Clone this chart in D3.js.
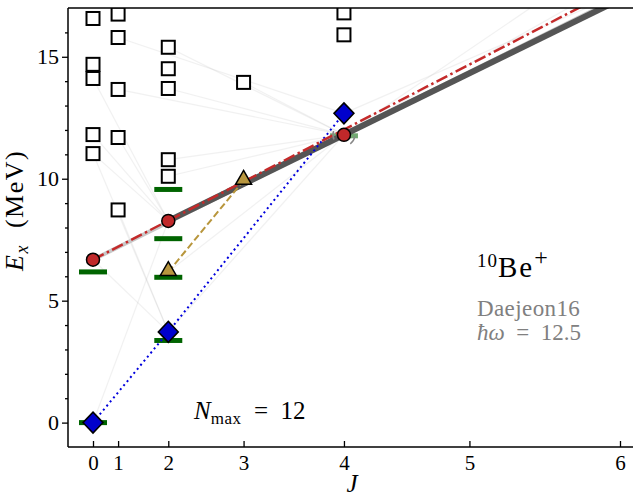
<!DOCTYPE html>
<html>
<head>
<meta charset="utf-8">
<script src="https://cdn.jsdelivr.net/npm/d3@7"></script>
<style>
  body { margin: 0; background: #fff; }
  svg text { font-family: "Liberation Serif", "DejaVu Serif", serif; }
</style>
</head>
<body>
<div id="chart"></div>
<script>
// axis ticks (x axis is J, placed at J(J+1))
var xTicks = [0, 1, 2, 3, 4, 5, 6];
var yMajor = [0, 5, 10, 15];
var yMinor = [1, 2, 3, 4, 6, 7, 8, 9, 11, 12, 13, 14, 16];

// experimental levels (green bars)
var expJ = [0, 2, 2, 0, 2, 2, 4];
var expE = [0, 3.368, 5.958, 6.179, 7.542, 9.56, 11.76];

// ground band (blue diamonds)
var gsJ = [0, 2, 4];
var gsE = [0, 3.72, 12.68];

// excited K=0 band (red circles)
var k0J = [0, 2, 4];
var k0E = [6.68, 8.27, 11.80];

// K=2 band (triangles)
var k2J = [2, 3];
var k2E = [6.18, 9.92];

// other calculated states (open squares)
var otherJ = [0, 0, 0, 0, 0, 1, 1, 1, 1, 1, 2, 2, 2, 2, 2, 3, 4, 4];
var otherE = [16.57, 14.69, 14.11, 11.81, 11.03,
              16.75, 15.79, 13.66, 11.69, 8.72,
              15.39, 14.51, 13.70, 10.78, 10.10,
              13.95, 16.80, 15.90];

// rotational fit lines (end points, J and E)
var fitRedJ = [0, 6], fitRedE = [6.68, 17.88];
var fitDarkJ = [2, 6], fitDarkE = [8.27, 17.35];
var fitLightJ = [0, 6], fitLightE = [6.68, 17.45];

// faint transition lines: from (J1,E1) to (J2,E2)
var trJ1 = [0, 0, 1, 1, 2, 2, 2, 3, 2, 0, 1, 0, 2, 4, 4, 4, 2, 0, 1, 2];
var trE1 = [11.03, 11.81, 8.72, 11.69, 10.10, 10.78, 13.70, 13.95, 3.72, 6.68, 13.66, 0, 6.18, 11.80, 11.80, 12.68, 15.39, 14.11, 15.79, 8.27];
var trJ2 = [2, 2, 2, 2, 4, 4, 4, 4, 4, 2, 4, 2, 4, 6, 6, 6, 4, 2, 4, 0];
var trE2 = [3.72, 8.27, 3.72, 8.27, 11.80, 11.80, 11.80, 11.80, 11.80, 3.72, 11.80, 8.27, 11.80, 18.2, 19.5, 17.6, 11.80, 8.27, 12.68, 11.03];

var margin = { top: 8, right: 2, bottom: 49, left: 68 },
  width = 635 - margin.left - margin.right,
  height = 496 - margin.top - margin.bottom;

var jj = function(J) { return J * (J + 1); };

var svg = d3
  .select("#chart")
  .append("svg")
  .attr("width", 635)
  .attr("height", 496)
  .append("g")
  .attr("transform", "translate(" + margin.left + "," + margin.top + ")");

var x = d3.scaleLinear().domain([0, 42]).range([25, 552]);
var y = d3.scaleLinear().domain([-1, 17]).range([height, 0]);

svg.append("clipPath").attr("id", "clip")
  .append("rect").attr("width", width).attr("height", height);

var plot = svg.append("g").attr("clip-path", "url(#clip)");

// faint transitions
trJ1.forEach(function(d, i) {
  plot.append("line")
    .attr("x1", x(jj(trJ1[i]))).attr("y1", y(trE1[i]))
    .attr("x2", x(jj(trJ2[i]))).attr("y2", y(trE2[i]))
    .attr("stroke", "#999").attr("stroke-width", 1.2).attr("opacity", 0.13);
});

// experimental bars
expJ.forEach(function(J, i) {
  plot.append("line")
    .attr("x1", x(jj(J)) - 14).attr("x2", x(jj(J)) + 14)
    .attr("y1", y(expE[i])).attr("y2", y(expE[i]))
    .attr("stroke", "#006400").attr("stroke-width", 5)
    .attr("opacity", J == 4 ? 0.55 : 1);
});

var line = d3.line()
  .x(function(d) { return x(jj(d[0])); })
  .y(function(d) { return y(d[1]); });
var zip = function(a, b) { return a.map(function(v, i) { return [v, b[i]]; }); };

// fit lines
plot.append("path").attr("d", line(zip(fitLightJ, fitLightE)))
  .attr("fill", "none").attr("stroke", "#c8c8c8").attr("stroke-width", 4);
plot.append("path").attr("d", line(zip(fitDarkJ, fitDarkE)))
  .attr("fill", "none").attr("stroke", "#555").attr("stroke-width", 6);

// band lines
plot.append("path").attr("d", line(zip(gsJ, gsE)))
  .attr("fill", "none").attr("stroke", "#0000dd").attr("stroke-width", 2)
  .attr("stroke-dasharray", "2,3.3");
plot.append("path").attr("d", line(zip(k2J, k2E)))
  .attr("fill", "none").attr("stroke", "#b8963c").attr("stroke-width", 2)
  .attr("stroke-dasharray", "7,3.2");
plot.append("path").attr("d", line(zip(fitRedJ, fitRedE)))
  .attr("fill", "none").attr("stroke", "#c42a2a").attr("stroke-width", 2.5)
  .attr("stroke-dasharray", "12,3.5,2.5,3.5");

// squares
otherJ.forEach(function(J, i) {
  plot.append("rect")
    .attr("x", x(jj(J)) - 6.5).attr("y", y(otherE[i]) - 6.5)
    .attr("width", 13).attr("height", 13)
    .attr("fill", "#fff").attr("stroke", "#000").attr("stroke-width", 2);
});

// rotation arcs around J=4 circle
[[-115, -70], [100, 145]].forEach(function(a) {
  plot.append("path")
    .attr("d", d3.arc()({ innerRadius: 11, outerRadius: 11, startAngle: a[0] * Math.PI / 180, endAngle: a[1] * Math.PI / 180 }))
    .attr("transform", "translate(" + x(jj(4)) + "," + y(k0E[2]) + ")")
    .attr("fill", "none").attr("stroke", "#888").attr("stroke-width", 1.5);
});

// triangles
k2J.forEach(function(J, i) {
  plot.append("path")
    .attr("d", d3.symbol().type(d3.symbolTriangle).size(110)())
    .attr("transform", "translate(" + x(jj(J)) + "," + (y(k2E[i]) - 1) + ")")
    .attr("fill", "#b8963e").attr("stroke", "#000").attr("stroke-width", 1.5);
});

// circles
k0J.forEach(function(J, i) {
  plot.append("circle")
    .attr("cx", x(jj(J))).attr("cy", y(k0E[i])).attr("r", 6.5)
    .attr("fill", "#c0282a").attr("stroke", "#000").attr("stroke-width", 1.5);
});

// diamonds
gsJ.forEach(function(J, i) {
  plot.append("path")
    .attr("d", "M0,-10.5L10,0L0,10.5L-10,0Z")
    .attr("transform", "translate(" + x(jj(J)) + "," + y(gsE[i]) + ")")
    .attr("fill", "#0000cc").attr("stroke", "#000").attr("stroke-width", 1.5);
});

// axes
var yAxis = svg.append("g")
  .call(d3.axisLeft(y).tickValues(yMajor).tickSize(6).tickSizeOuter(0).tickPadding(3));
svg.append("g")
  .call(d3.axisLeft(y).tickValues(yMinor).tickSize(3).tickSizeOuter(0).tickFormat(""))
  .select(".domain").remove();
yAxis.select(".domain").remove();
yAxis.selectAll("text").attr("font-size", 22).attr("font-family", "Liberation Serif");

var xAxis = svg.append("g")
  .attr("transform", "translate(0," + height + ")")
  .call(d3.axisBottom(x).tickValues(xTicks.map(jj)).tickFormat(function(d, i) { return xTicks[i]; })
    .tickSize(-6).tickSizeOuter(0).tickPadding(8));
xAxis.select(".domain").remove();
xAxis.selectAll("text").attr("font-size", 21).attr("font-family", "Liberation Serif");
svg.selectAll(".tick line").attr("stroke-width", 1.3);

// spines
svg.append("line").attr("x1", 0).attr("x2", 0).attr("y1", 0).attr("y2", height)
  .attr("stroke", "#000").attr("stroke-width", 1.5);
svg.append("line").attr("x1", 0).attr("x2", width).attr("y1", height).attr("y2", height)
  .attr("stroke", "#000").attr("stroke-width", 1.5);
svg.append("line").attr("x1", 0).attr("x2", width).attr("y1", 0).attr("y2", 0)
  .attr("stroke", "#000").attr("stroke-width", 1.5);

// axis labels
svg.append("text")
  .attr("x", x(jj(4)) + 8).attr("y", 484)
  .attr("text-anchor", "middle").attr("font-size", 25).attr("font-style", "italic")
  .text("J");

var ylab = svg.append("text")
  .attr("transform", "translate(-45," + (y(8.7)) + ") rotate(-90)")
  .attr("text-anchor", "middle").attr("font-size", 26).attr("letter-spacing", 1.5)
  .attr("xml:space", "preserve");
ylab.append("tspan").attr("font-style", "italic").text("E");
ylab.append("tspan").attr("font-style", "italic").attr("font-size", 18).attr("dy", 5).text("x");
ylab.append("tspan").attr("dy", -5).text("  (MeV)");

// annotations
var nmax = svg.append("text").attr("x", 126).attr("y", 411).attr("font-size", 25)
  .attr("xml:space", "preserve");
nmax.append("tspan").attr("font-style", "italic").text("N");
nmax.append("tspan").attr("font-size", 17).attr("dy", 5).attr("letter-spacing", 0.5).text("max");
nmax.append("tspan").attr("dy", -5).text("\u2002=\u200212");

var nuc = svg.append("text").attr("x", 409).attr("y", 269).attr("font-size", 29)
  .attr("letter-spacing", 1);
nuc.append("tspan").attr("font-size", 19).attr("dy", -10).text("10");
nuc.append("tspan").attr("dy", 10).attr("letter-spacing", 2).text("Be");
nuc.append("tspan").attr("font-size", 24).attr("dy", -12).text("+");

svg.append("text").attr("x", 409).attr("y", 308).attr("font-size", 23)
  .attr("letter-spacing", 0.4).attr("fill", "#808080").text("Daejeon16");
var hw = svg.append("text").attr("x", 409).attr("y", 332).attr("font-size", 23)
  .attr("fill", "#808080").attr("xml:space", "preserve");
hw.append("tspan").attr("font-style", "italic").text("\u0127\u03c9");
hw.append("tspan").text("\u2002=\u200212.5");
</script>
</body>
</html>
